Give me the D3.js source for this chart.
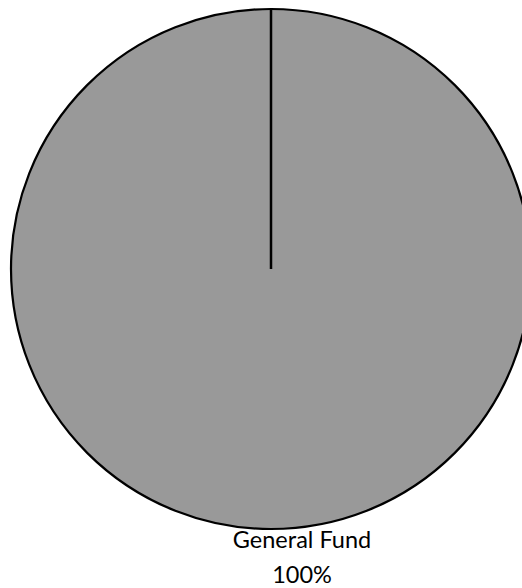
<!DOCTYPE html>
<html><head><meta charset="utf-8">
<script src="https://cdn.jsdelivr.net/npm/d3@7"></script>
<style>html,body{margin:0;padding:0;background:#fff;overflow:hidden}</style>
</head><body>
<svg id="c" width="522" height="588"></svg>
<script>
const categories = ["General Fund"];
const values = [100];
const percentLabels = ["100%"];

const svg = d3.select("#c");
const cx = 271, cy = 269, r = 260;
const g = svg.append("g").attr("transform", `translate(${cx},${cy})`);
const pie = d3.pie().sort(null).value(d => d.v);
const data = pie(categories.map((c, i) => ({c, v: values[i], p: percentLabels[i]})));
const arc = d3.arc().innerRadius(0).outerRadius(r);

g.selectAll("path.slice").data(data).enter().append("path")
  .attr("class", "slice")
  .attr("d", arc)
  .attr("fill", "#999999")
  .attr("stroke", "#000")
  .attr("stroke-width", 2.2);

g.selectAll("line.edge").data(data).enter().append("line")
  .attr("x1", 0).attr("y1", 0)
  .attr("x2", d => r * Math.sin(d.startAngle))
  .attr("y2", d => -r * Math.cos(d.startAngle))
  .attr("stroke", "#000").attr("stroke-width", 2.5);

const lab = g.selectAll("text.lab").data(data).enter().append("text")
  .attr("class", "lab")
  .attr("text-anchor", "middle")
  .attr("font-family", "Lato, 'Open Sans', sans-serif")
  .attr("font-size", 23.5)
  .attr("fill", "#000")
  .attr("transform", d => {
    const a = (d.startAngle + d.endAngle) / 2;
    const x = (r + 20) * Math.sin(a) + 31;
    const y = -(r + 20) * Math.cos(a);
    return `translate(${x},${y})`;
  });
lab.append("tspan").attr("x", 0).attr("y", -1).text(d => d.data.c);
lab.append("tspan").attr("x", 0).attr("y", 34).text(d => d.data.p);
</script>
</body></html>
